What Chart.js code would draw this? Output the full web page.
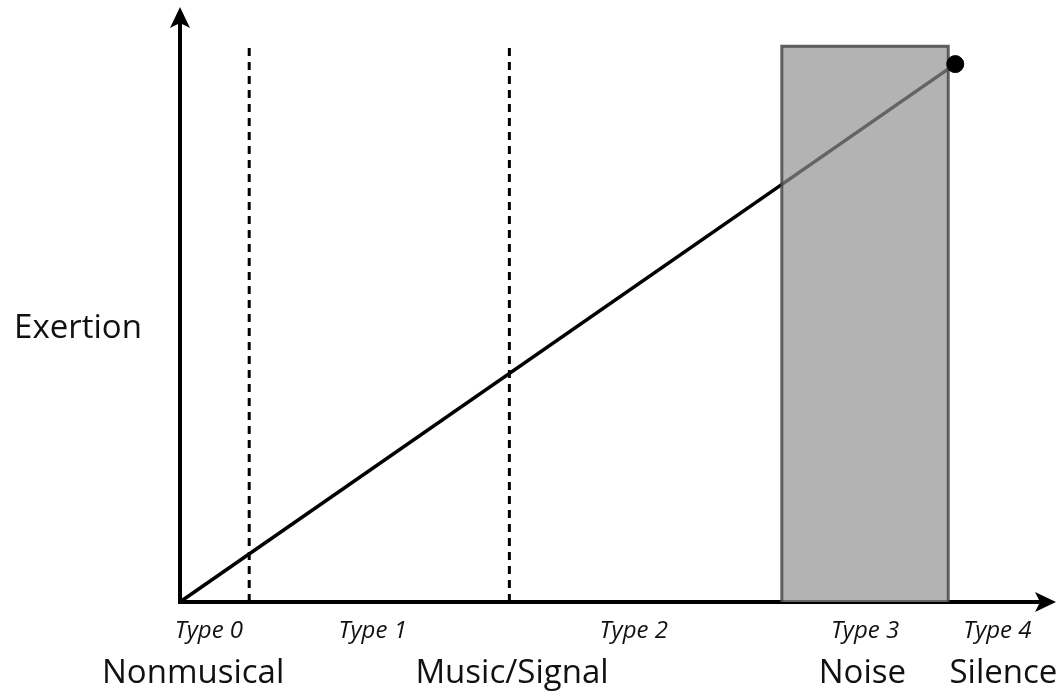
<!DOCTYPE html>
<html lang="en">
<head>
<meta charset="UTF-8">
<title>Exertion</title>
<script src="https://cdn.jsdelivr.net/npm/chart.js"></script>
<style>
  html, body { margin: 0; padding: 0; background: #fff; }
  #wrap { width: 1062px; height: 692px; }
</style>
</head>
<body>
<div id="wrap"><canvas id="grafico" width="1062" height="692"></canvas></div>
<script>
// data (x: 0-100 along the axis, y: 0-100 exertion)
const linhaX = [0, 88.5];
const linhaY = [0, 90.4];
const divisoes = [7.9, 37.6];          // dashed separators
const divisaoTopo = 93.1;
const ruidoX = [68.7, 87.7];           // shaded "noise" band
const ruidoTopo = 93.4;

const tiposTexto = ['Type 0', 'Type 1', 'Type 2', 'Type 3', 'Type 4'];
const tiposPos = [3.3, 22.0, 51.8, 78.2, 93.3];
const nomesTexto = ['Nonmusical', 'Music/Signal', 'Noise', 'Silence'];
const nomesPos = [1.5, 37.9, 77.9, 94.0];
const tituloY = 'Exertion';

const fonte = '"Open Sans", Lato, sans-serif';

// axes with arrow heads, drawn under the datasets
const eixos = {
  id: 'eixos',
  beforeDatasetsDraw(chart) {
    const ctx = chart.ctx;
    const a = chart.chartArea;
    const x0 = chart.scales.x.getPixelForValue(0);
    const y0 = chart.scales.y.getPixelForValue(0);
    ctx.save();
    ctx.strokeStyle = '#000';
    ctx.fillStyle = '#000';
    ctx.lineWidth = 4;
    ctx.beginPath();
    ctx.moveTo(x0, y0 + 2);
    ctx.lineTo(x0, a.top + 12);
    ctx.moveTo(x0 - 2, y0);
    ctx.lineTo(a.right - 12, y0);
    ctx.stroke();
    // arrow heads
    ctx.beginPath();
    ctx.moveTo(x0, a.top);
    ctx.lineTo(x0 + 10, a.top + 21);
    ctx.lineTo(x0, a.top + 16);
    ctx.lineTo(x0 - 10, a.top + 21);
    ctx.closePath();
    ctx.fill();
    ctx.beginPath();
    ctx.moveTo(a.right, y0);
    ctx.lineTo(a.right - 21, y0 - 10);
    ctx.lineTo(a.right - 16, y0);
    ctx.lineTo(a.right - 21, y0 + 10);
    ctx.closePath();
    ctx.fill();
    ctx.restore();
  },
  afterDraw(chart) {
    const ctx = chart.ctx;
    const sx = chart.scales.x;
    const sy = chart.scales.y;
    ctx.save();
    ctx.fillStyle = '#111';
    ctx.textAlign = 'center';
    ctx.textBaseline = 'alphabetic';
    ctx.font = 'italic 24px ' + fonte;
    for (let i = 0; i < tiposTexto.length; i++) {
      ctx.fillText(tiposTexto[i], sx.getPixelForValue(tiposPos[i]), 638);
    }
    ctx.font = '33px ' + fonte;
    for (let i = 0; i < nomesTexto.length; i++) {
      ctx.fillText(nomesTexto[i], sx.getPixelForValue(nomesPos[i]), 683);
    }
    ctx.textBaseline = 'middle';
    ctx.fillText(tituloY, 78, sy.getPixelForValue(46));
    ctx.restore();
  }
};

const datasets = [
  {
    // end point
    data: [{ x: linhaX[1], y: linhaY[1] }],
    showLine: false,
    pointRadius: 8.5,
    pointBackgroundColor: '#000',
    pointBorderColor: '#000',
    order: 1
  },
  {
    // noise band (outline, filled down to 0)
    data: [
      { x: ruidoX[0], y: 0 }, { x: ruidoX[0], y: ruidoTopo },
      { x: ruidoX[1], y: ruidoTopo }, { x: ruidoX[1], y: 0 }
    ],
    showLine: true,
    fill: 'origin',
    backgroundColor: 'rgba(145,145,145,0.69)',
    borderColor: 'rgba(70,70,70,0.85)',
    borderWidth: 3,
    pointRadius: 0,
    tension: 0,
    order: 2
  },
  {
    data: [{ x: linhaX[0], y: linhaY[0] }, { x: linhaX[1], y: linhaY[1] }],
    showLine: true,
    borderColor: '#000',
    borderWidth: 3.5,
    pointRadius: 0,
    order: 3
  }
];

divisoes.forEach(function (d) {
  datasets.push({
    data: [{ x: d, y: 0 }, { x: d, y: divisaoTopo }],
    showLine: true,
    borderColor: '#000',
    borderWidth: 3,
    borderDash: [8, 6],
    pointRadius: 0,
    order: 4
  });
});

new Chart(document.getElementById('grafico'), {
  type: 'scatter',
  data: { datasets: datasets },
  options: {
    responsive: false,
    animation: false,
    layout: { autoPadding: false, padding: { left: 180, right: 6, top: 7, bottom: 90 } },
    plugins: { legend: { display: false }, tooltip: { enabled: false } },
    scales: {
      x: { type: 'linear', min: 0, max: 100, display: false },
      y: { type: 'linear', min: 0, max: 100, display: false }
    }
  },
  plugins: [eixos]
});
</script>
</body>
</html>
